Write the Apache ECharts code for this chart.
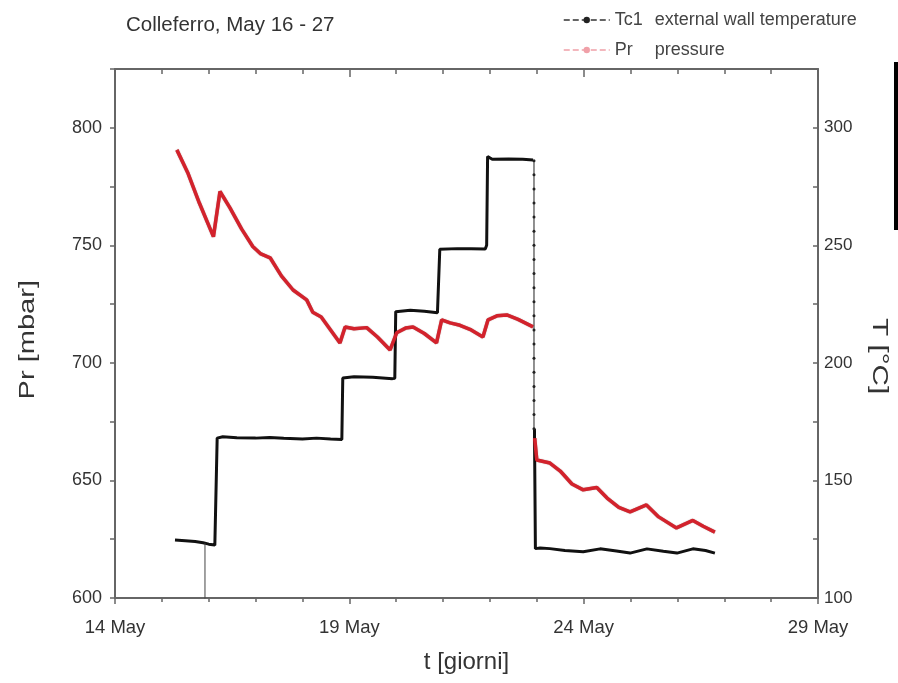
<!DOCTYPE html>
<html>
<head>
<meta charset="utf-8">
<script src="https://cdn.jsdelivr.net/npm/echarts@6/dist/echarts.min.js"></script>
<style>html,body{margin:0;padding:0;background:#fff}#c{width:898px;height:683px}</style>
</head>
<body>
<div id="c"></div>
<script>
// x = day of May, y = temperature (°C) / pressure (mbar)
const tc1Main = [[15.28,124.7],[15.5,124.4],[15.71,124.0],[15.88,123.5],[16.0,122.9],[16.13,122.5],[16.16,122.6],[16.18,168.0],[16.3,168.6],[16.6,168.2],[17.0,168.0],[17.3,168.3],[17.6,167.9],[18.0,167.6],[18.3,168.0],[18.6,167.6],[18.84,167.4],[18.86,193.6],[19.1,194.1],[19.5,193.9],[19.92,193.3],[19.97,193.5],[19.99,221.8],[20.3,222.4],[20.6,222.0],[20.88,221.3],[20.91,221.5],[20.93,248.3],[21.3,248.6],[21.6,248.5],[21.9,248.4],[21.93,250],[21.95,287.8],[22.05,286.6],[22.4,286.7],[22.7,286.6],[22.92,286.3]];
const tc1Drop = [[22.94,286],[22.94,280],[22.94,274],[22.94,268],[22.94,262],[22.94,256],[22.94,250],[22.94,244],[22.94,238],[22.94,232],[22.94,226],[22.94,220],[22.94,214],[22.94,208],[22.94,202],[22.94,196],[22.94,190],[22.94,184],[22.94,178],[22.94,172]];
const tc1Tail = [[22.95,172],[22.97,121.0],[23.07,121.3],[23.28,121.0],[23.6,120.2],[23.99,119.7],[24.35,120.9],[24.7,120.0],[24.99,119.1],[25.35,120.9],[25.7,119.9],[25.99,119.1],[26.33,120.9],[26.6,120.2],[26.8,119.1]];
const tc1Glitch = [[15.92,123.3],[15.92,95]];
const prData = [[15.32,790.6],[15.55,781],[15.8,768],[16.1,753.7],[16.24,772.9],[16.45,766],[16.7,757],[16.94,749.5],[17.1,746.5],[17.31,744.7],[17.55,737],[17.8,731],[18.09,726.8],[18.22,721.5],[18.4,719.5],[18.6,714],[18.8,708.5],[18.91,715.3],[19.1,714.5],[19.37,715],[19.6,711],[19.87,705.5],[20.01,712.8],[20.2,714.8],[20.36,715.3],[20.6,712.5],[20.86,708.5],[20.97,718.3],[21.15,717],[21.36,716],[21.6,714],[21.85,711],[21.96,718.3],[22.15,720],[22.36,720.4],[22.6,718.5],[22.92,715.3],[22.94,'-'],[22.955,668],[23.0,658.7],[23.28,657.4],[23.5,654],[23.75,648.5],[23.99,646],[24.28,647],[24.5,642.5],[24.75,638.5],[24.99,636.6],[25.34,639.6],[25.6,634.5],[25.98,629.8],[26.33,633],[26.55,630.5],[26.8,628]];
const legendDesc = {'Tc1':'external wall temperature','Pr':'pressure'};
const titleText = 'Colleferro, May 16 - 27';

const axisCol = '#666';
const txtCol = '#333';
const font = 'Liberation Sans, Arial, sans-serif';
const chart = echarts.init(document.getElementById('c'));
const xCommon = {type:'value',min:14,max:29,interval:5,
  axisLine:{lineStyle:{color:axisCol,width:2}},splitLine:{show:false},
  minorSplitLine:{show:false}};
chart.setOption({
  animation:false,
  textStyle:{fontFamily:font},
  title:{text:titleText,left:121,top:10,textStyle:{fontSize:20.5,fontWeight:'normal',color:txtCol,fontFamily:font}},
  legend:{orient:'vertical',left:558,top:6,itemGap:12,itemWidth:46,itemHeight:8,
    data:[{name:'Tc1',lineStyle:{width:1.5,color:'#333',type:[6,3]},itemStyle:{color:'#222'}},
          {name:'Pr',lineStyle:{width:1.5,color:'#f0a0a8',type:[6,3]},itemStyle:{color:'#f0a0a8'}}],
    formatter:n=>'{n|'+n+'}{d|'+legendDesc[n]+'}',
    textStyle:{color:'#444',fontSize:18,fontFamily:font,rich:{n:{width:40,fontSize:18,color:'#444'},d:{fontSize:18,color:'#444'}}}},
  grid:{left:115,right:80,top:69,bottom:85},
  xAxis:[
    Object.assign({},xCommon,{position:'bottom',
      name:'t [giorni]',nameLocation:'middle',nameGap:52,nameTextStyle:{fontSize:24,color:txtCol},
      axisTick:{inside:false,length:6,lineStyle:{color:axisCol,width:1.5}},
      minorTick:{show:true,splitNumber:5,length:4,lineStyle:{color:axisCol,width:1.5}},
      axisLabel:{formatter:v=>v+' May',fontSize:18.5,color:txtCol,margin:20}}),
    Object.assign({},xCommon,{position:'top',
      axisTick:{inside:true,length:8,lineStyle:{color:axisCol,width:1.5}},
      minorTick:{show:true,splitNumber:5,length:5,lineStyle:{color:axisCol,width:1.5}},
      axisLabel:{show:false}})
  ],
  yAxis:[
    {type:'value',min:600,max:825,interval:50,position:'left',
      axisLine:{show:true,lineStyle:{color:axisCol,width:2}},splitLine:{show:false},
      axisTick:{show:true,inside:false,length:5,lineStyle:{color:axisCol,width:1.5}},
      minorTick:{show:true,splitNumber:2,length:5,lineStyle:{color:axisCol,width:1.5}},
      axisLabel:{fontSize:18,color:txtCol,margin:13,showMaxLabel:false}},
    {type:'value',min:100,max:325,interval:50,position:'right',
      axisLine:{show:true,lineStyle:{color:axisCol,width:2}},splitLine:{show:false},
      axisTick:{show:true,inside:true,length:5,lineStyle:{color:axisCol,width:1.5}},
      minorTick:{show:true,splitNumber:2,length:5,lineStyle:{color:axisCol,width:1.5}},
      axisLabel:{fontSize:17,color:txtCol,margin:6,showMaxLabel:false}}
  ],
  series:[
    {name:'Tc1',type:'line',xAxisIndex:0,yAxisIndex:1,data:tc1Main,symbol:'circle',symbolSize:4,showSymbol:false,
      lineStyle:{color:'#111',width:3},itemStyle:{color:'#111'}},
    {name:'Tc1 drop',type:'line',xAxisIndex:0,yAxisIndex:1,data:tc1Drop,symbol:'circle',symbolSize:3,showSymbol:true,
      lineStyle:{color:'#222',width:1},itemStyle:{color:'#222'}},
    {name:'Tc1 tail',type:'line',xAxisIndex:0,yAxisIndex:1,data:tc1Tail,showSymbol:false,symbol:'none',
      lineStyle:{color:'#111',width:3}},
    {name:'Tc1 glitch',type:'line',xAxisIndex:0,yAxisIndex:1,data:tc1Glitch,showSymbol:false,symbol:'none',
      lineStyle:{color:'#444',width:1}},
    {name:'Pr',type:'line',xAxisIndex:0,yAxisIndex:0,data:prData,symbol:'circle',symbolSize:4,showSymbol:false,
      connectNulls:false,
      lineStyle:{color:'#d3222c',width:3.5,shadowColor:'rgba(90,0,0,0.5)',shadowBlur:1},itemStyle:{color:'#f2a0a8'}}
  ],
  graphic:[
    {type:'text',left:17,top:280,rotation:Math.PI/2,scaleX:1.32,style:{text:'Pr [mbar]',fill:txtCol,font:'22px '+font}},
    {type:'text',left:868,top:318,rotation:-Math.PI/2,scaleX:1.35,style:{text:'T [°C]',fill:txtCol,font:'22px '+font}},
    {type:'rect',left:894,top:62,shape:{width:4,height:168},style:{fill:'#000'}}
  ]
});
</script>
</body>
</html>
